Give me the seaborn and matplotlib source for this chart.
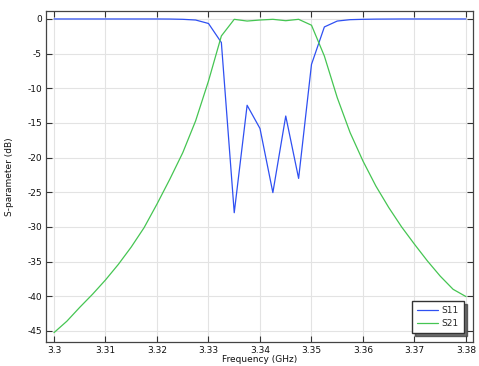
import numpy as np
import pandas as pd
import matplotlib
matplotlib.use("Agg")
import matplotlib.pyplot as plt
import seaborn as sns
from matplotlib.ticker import FuncFormatter

freq = [3.3 + 0.0025 * i for i in range(33)]
s11 = [0.0, 0.0, 0.0, 0.0, 0.0, 0.0, 0.0, 0.0, 0.0, -0.01, -0.05,
       -0.15, -0.65, -3.4, -27.95, -12.45, -15.8, -25.05, -14.0, -23.0,
       -6.55, -1.15, -0.3, -0.1, -0.05, -0.02, -0.01, 0.0, 0.0, 0.0, 0.0,
       0.0, 0.0]
s21 = [-45.25, -43.6, -41.6, -39.7, -37.65, -35.4, -32.9, -30.1, -26.7,
       -23.1, -19.3, -14.7, -8.95, -2.45, -0.05, -0.3, -0.15, -0.05, -0.25,
       -0.05, -0.9, -5.35, -11.35, -16.4, -20.5, -24.1, -27.2, -30.0, -32.5,
       -34.9, -37.1, -39.0, -40.05]
series_names = ["S11", "S21"]
xticks = [3.3, 3.31, 3.32, 3.33, 3.34, 3.35, 3.36, 3.37, 3.38]
yticks = [0, -5, -10, -15, -20, -25, -30, -35, -40, -45]

df = pd.DataFrame({
    "Frequency (GHz)": freq * 2,
    "S-parameter (dB)": s11 + s21,
    "series": [series_names[0]] * len(freq) + [series_names[1]] * len(freq),
})

sns.set_theme(style="white")
plt.rcParams["font.family"] = ["DejaVu Sans"]

fig = plt.figure(figsize=(4.79, 3.66), dpi=100)
ax = fig.add_axes([46 / 479, 1 - 342 / 366, (473 - 46) / 479, (342 - 11) / 366])

sns.lineplot(data=df, x="Frequency (GHz)", y="S-parameter (dB)", hue="series",
             palette={"S11": "#2f50f2", "S21": "#45c552"}, linewidth=0.9,
             ax=ax, legend=True)

ax.set_xlim(3.29845, 3.38136)
ax.set_ylim(-46.6, 1.15)
ax.set_xticks(xticks)
ax.set_yticks(yticks)
ax.xaxis.set_major_formatter(FuncFormatter(lambda v, p: "%g" % round(v, 4)))
ax.yaxis.set_major_formatter(FuncFormatter(lambda v, p: "%g" % v))
ax.grid(True, color="#e3e3e3", linewidth=0.8)
ax.tick_params(axis="both", which="both", direction="in", length=4, width=0.8,
               labelsize=6.5, colors="#333333", top=True, right=True,
               bottom=True, left=True, labelcolor="#111111", pad=3)
for s in ax.spines.values():
    s.set_color("#444444")
    s.set_linewidth(0.9)
ax.set_xlabel("Frequency (GHz)", fontsize=6.5, labelpad=0, color="#111111")
ax.set_ylabel("S-parameter (dB)", fontsize=6.5, labelpad=9.5, color="#111111")

leg = ax.legend(loc="lower right", fontsize=6.5, frameon=True, fancybox=False,
                shadow={"color": "#333333", "alpha": 0.7},
                borderpad=0.55, labelspacing=0.4, handlelength=2.3,
                handletextpad=0.4, borderaxespad=0.0,
                bbox_to_anchor=((464 - 46) / 427, (342 - 333) / 331), title=None)
leg.get_frame().set_edgecolor("#333333")
leg.get_frame().set_linewidth(1.0)
for line in leg.get_lines():
    line.set_linewidth(0.9)

fig.savefig("out.png", dpi=100)
